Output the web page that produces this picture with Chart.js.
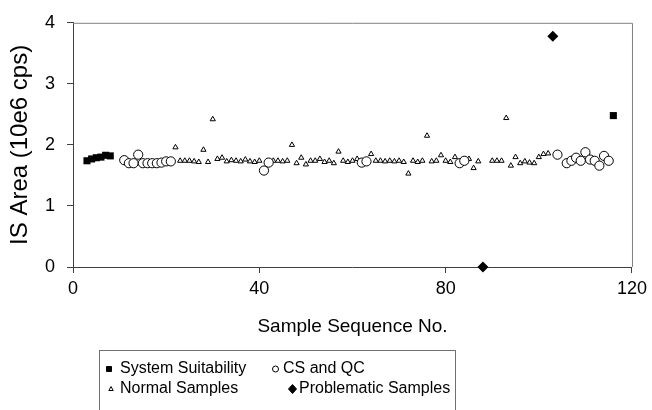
<!DOCTYPE html>
<html>
<head>
<meta charset="utf-8">
<script src="https://cdn.jsdelivr.net/npm/chart.js@4"></script>
<style>
  body { margin: 0; background: #fff; }
</style>
</head>
<body>
<canvas id="isChart" width="652" height="410"></canvas>
<script>
// sample sequence no. / IS area (10e6 cps)
const ssX = [3, 4, 5, 6, 7, 8, 116]
const ssY = [1.74, 1.77, 1.79, 1.80, 1.83, 1.82, 2.48]

const qcX = [11, 12, 13, 14, 15, 16, 17, 18, 19, 20, 21, 41, 42, 62, 63, 83, 84,
             104, 106, 107, 108, 109, 110, 111, 112, 113, 114, 115]
const qcY = [1.75, 1.70, 1.70, 1.84, 1.70, 1.70, 1.70, 1.70, 1.71, 1.73, 1.73, 1.58, 1.71, 1.71, 1.73, 1.70, 1.74,
             1.84, 1.70, 1.74, 1.79, 1.74, 1.88, 1.76, 1.74, 1.66, 1.82, 1.74]

const normX = [22, 23, 24, 25, 26, 27, 28, 29, 30, 31, 32, 33, 34, 35, 36, 37, 38, 39, 40,
               43, 44, 45, 46, 47, 48, 49, 50, 51, 52, 53, 54, 55, 56, 57, 58, 59, 60, 61,
               64, 65, 66, 67, 68, 69, 70, 71, 72, 73, 74, 75, 76, 77, 78, 79, 80, 81, 82,
               85, 86, 87, 90, 91, 92, 93, 94, 95, 96, 97, 98, 99, 100, 101, 102]
const normY = [1.96, 1.74, 1.74, 1.74, 1.73, 1.72, 1.92, 1.72, 2.42, 1.77, 1.79, 1.73, 1.75, 1.74, 1.73, 1.76, 1.73, 1.72, 1.74,
               1.74, 1.74, 1.73, 1.74, 2.00, 1.70, 1.79, 1.68, 1.74, 1.74, 1.77, 1.72, 1.74, 1.70, 1.89, 1.74, 1.72, 1.74, 1.77,
               1.85, 1.74, 1.74, 1.73, 1.74, 1.73, 1.74, 1.72, 1.53, 1.74, 1.72, 1.74, 2.15, 1.73, 1.74, 1.83, 1.74, 1.72, 1.80,
               1.77, 1.62, 1.73, 1.74, 1.74, 1.74, 2.44, 1.66, 1.80, 1.70, 1.73, 1.71, 1.70, 1.80, 1.85, 1.86]

const probX = [88, 103]
const probY = [0, 3.78]

const xTicks = [0, 40, 80, 120]
const yTicks = [0, 1, 2, 3, 4]

function pts(xs, ys) {
    return xs.map((x, i) => ({ x: x, y: ys[i] }))
}

const FONT = "'Liberation Sans', Arial, sans-serif"
Chart.defaults.font.family = FONT
Chart.defaults.color = '#000'

/*=================== frame on top/right =====================*/
const frame = {
    id: 'frame',
    afterDatasetsDraw(chart) {
        const { ctx, chartArea: a } = chart
        ctx.save()
        ctx.strokeStyle = '#808080'
        ctx.lineWidth = 1
        ctx.beginPath()
        ctx.moveTo(a.left, a.top + 0.5)
        ctx.lineTo(a.right + 0.5, a.top + 0.5)
        ctx.lineTo(a.right + 0.5, a.bottom)
        ctx.stroke()
        ctx.restore()
    }
}

/*=================== boxed legend below =====================*/
const boxLegend = {
    id: 'boxLegend',
    afterDraw(chart) {
        const ctx = chart.ctx
        const ds = chart.data.datasets
        const spots = [
            { mx: 109, tx: 120, y: 369 },
            { mx: 275.5, tx: 283, y: 369 },
            { mx: 111, tx: 120, y: 389 },
            { mx: 292.5, tx: 299, y: 389 }
        ]
        ctx.save()
        ctx.strokeStyle = '#707070'
        ctx.lineWidth = 1
        ctx.strokeRect(99.5, 350.5, 356, 70)
        ctx.font = '16px ' + FONT
        ctx.textBaseline = 'middle'
        ctx.textAlign = 'left'
        ctx.fillStyle = '#000'
        ds.forEach((d, i) => {
            const s = spots[i]
            ctx.fillText(d.label, s.tx, s.y)
            ctx.beginPath()
            ctx.fillStyle = d.backgroundColor
            ctx.strokeStyle = '#000'
            if (d.pointStyle === 'rect') {
                ctx.rect(s.mx - 2.5, s.y - 2.5, 5, 5)
            } else if (d.pointStyle === 'circle') {
                ctx.arc(s.mx, s.y, 3, 0, Math.PI * 2)
            } else if (d.pointStyle === 'triangle') {
                ctx.moveTo(s.mx, s.y - 2.5)
                ctx.lineTo(s.mx + 2.2, s.y + 1.5)
                ctx.lineTo(s.mx - 2.2, s.y + 1.5)
                ctx.closePath()
            } else {
                ctx.moveTo(s.mx, s.y - 4.5)
                ctx.lineTo(s.mx + 4, s.y)
                ctx.lineTo(s.mx, s.y + 4.5)
                ctx.lineTo(s.mx - 4, s.y)
                ctx.closePath()
            }
            ctx.fill()
            ctx.stroke()
            ctx.fillStyle = '#000'
        })
        ctx.restore()
    }
}

/*=================== chart =====================*/
const data = {
    datasets: [
        {
            label: 'System Suitability',
            data: pts(ssX, ssY),
            pointStyle: 'rect',
            pointRadius: 5,
            backgroundColor: '#000',
            borderColor: '#000',
            borderWidth: 0
        },
        {
            label: 'CS and QC',
            data: pts(qcX, qcY),
            pointStyle: 'circle',
            pointRadius: 4.6,
            backgroundColor: '#fff',
            borderColor: '#000',
            borderWidth: 1
        },
        {
            label: 'Normal Samples',
            data: pts(normX, normY),
            pointStyle: 'triangle',
            pointRadius: 3,
            backgroundColor: '#fff',
            borderColor: '#000',
            borderWidth: 1
        },
        {
            label: 'Problematic Samples',
            data: pts(probX, probY),
            pointStyle: 'rectRot',
            pointRadius: 5.5,
            backgroundColor: '#000',
            borderColor: '#000',
            borderWidth: 0
        }
    ]
}

const config = {
    type: 'scatter',
    data: data,
    plugins: [frame, boxLegend],
    options: {
        responsive: false,
        animation: false,
        clip: false,
        layout: { padding: { top: 21, right: 20, left: 0, bottom: 72 } },
        plugins: {
            legend: { display: false },
            tooltip: { enabled: false }
        },
        scales: {
            x: {
                type: 'linear',
                min: 0,
                max: 120,
                afterBuildTicks: (s) => { s.ticks = xTicks.map(v => ({ value: v })) },
                afterFit: (s) => { s.height = 71 },
                border: { color: '#404040', width: 1 },
                grid: { drawOnChartArea: false, tickLength: 6, color: '#404040' },
                ticks: { font: { size: 18 }, padding: 5, color: '#000' },
                title: {
                    display: true,
                    text: 'Sample Sequence No.',
                    font: { size: 19 },
                    padding: 0,
                    color: '#000'
                }
            },
            y: {
                type: 'linear',
                min: 0,
                max: 4,
                afterBuildTicks: (s) => { s.ticks = yTicks.map(v => ({ value: v })) },
                afterFit: (s) => { s.width = 73 },
                border: { color: '#404040', width: 1 },
                grid: { drawOnChartArea: false, tickLength: 6, color: '#404040' },
                ticks: { font: { size: 18 }, padding: 12, color: '#000' },
                title: {
                    display: true,
                    text: 'IS Area (10e6 cps)',
                    font: { size: 24 },
                    padding: { top: 6, bottom: 0 },
                    color: '#000'
                }
            }
        }
    }
}

const isChart = new Chart(document.getElementById('isChart'), config)
</script>
</body>
</html>
